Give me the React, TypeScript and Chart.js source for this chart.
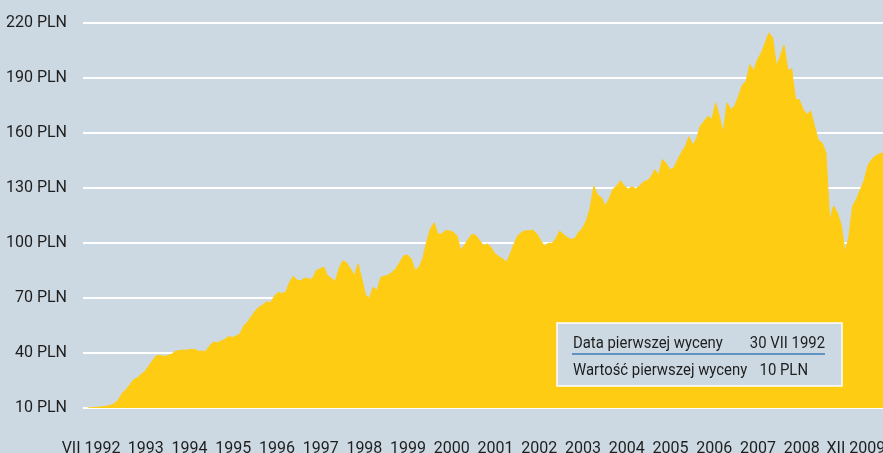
import React, { useEffect, useRef } from 'react';
import { Chart, registerables } from 'chart.js';

Chart.register(...registerables);

// Monthly fund unit value (PLN), end of month, VII 1992 .. XII 2009
const values: number[] = [
  // 1992 VII-XII
  10.1, 10.2, 10.4, 10.5, 10.7, 11,
  // 1993
  11.5, 12.5, 14.4, 18, 20, 22.5, 25.5, 26.4, 28.4, 30, 33, 36,
  // 1994
  38.5, 38.7, 38, 38.7, 39.3, 41, 41.3, 41.6, 41.5, 42, 42, 41,
  // 1995
  41, 41, 44, 46, 45.5, 46.5, 47.5, 49, 48.5, 49.3, 50.5, 55,
  // 1996
  57, 60, 63, 65, 66.3, 68, 67.4, 71, 73, 72.5, 73.2, 78.6,
  // 1997
  81.9, 79.5, 79.5, 80.8, 80.4, 80.4, 85, 85.9, 86.8, 82, 80.8, 79,
  // 1998
  86, 90.4, 89.1, 86, 82.2, 88.6, 80.4, 71.4, 70, 75.9, 74.1, 81.3,
  // 1999
  81.9, 82.6, 84, 86.2, 89.5, 93, 93.5, 91.3, 85, 86.7, 91.3, 100.4,
  // 2000
  107.6, 111, 104.9, 104.9, 106.7, 106.7, 105.8, 104, 96, 98.9, 102.2, 104.9,
  // 2001
  104, 101.3, 98.5, 99.5, 97.5, 94, 92.7, 91.3, 89.5, 94, 99.5, 104,
  // 2002
  105.8, 106.7, 106.7, 107, 105, 101.3, 98.4, 99.8, 99.8, 102.4, 106.5, 104.7,
  // 2003
  103, 102, 102.5, 106, 108, 112, 119, 131, 126, 124.7, 120.2, 124,
  // 2004
  129.3, 131.1, 134, 131.1, 129.3, 130.7, 129.6, 131, 133.3, 134, 136, 140,
  // 2005
  137, 145.6, 143.5, 140, 141, 145.3, 149.3, 152.5, 158, 153.3, 157, 164,
  // 2006
  166.4, 169.2, 167.4, 176.4, 169, 160, 176.4, 172.8, 174.6, 180, 186, 188.2,
  // 2007
  197.3, 194, 200, 203.7, 209, 214.6, 212, 196.4, 201.8, 208, 194, 195,
  // 2008
  178.2, 178.2, 172.8, 170.1, 171.9, 163.7, 156, 154.6, 149.2, 112, 120.2, 116.5,
  // 2009
  110, 95, 103, 120, 123.8, 129, 133.8, 142, 145.5, 147.4, 148.5, 149.2,
];

const xLabels: string[] = [
  'VII 1992', '1993', '1994', '1995', '1996', '1997', '1998', '1999', '2000',
  '2001', '2002', '2003', '2004', '2005', '2006', '2007', '2008', 'XII 2009',
];

const yTicks: number[] = [10, 40, 70, 100, 130, 160, 190, 220];

const infoLabels: string[] = ['Data pierwszej wyceny', 'Wartość pierwszej wyceny'];
const infoValues: string[] = ['30 VII 1992', '10 PLN'];

const BG = '#cdd9e2';
const YELLOW = '#ffcc14';
const TEXT = '#1e1e1e';
const FONT_FAMILY = "Roboto, 'Liberation Sans', sans-serif";
const FONT_SIZE = 16;

export default function App() {
  const ref = useRef<HTMLCanvasElement | null>(null);

  useEffect(() => {
    document.body.style.margin = '0';
    const canvas = ref.current;
    if (!canvas) return;

    const points = values.map((v, i) => ({ x: i, y: v }));
    const labelPos = xLabels.map((_, k) =>
      k === 0 ? -0.25 : k === xLabels.length - 1 ? 17.24 : k
    );

    const bgPlugin = {
      id: 'bg',
      beforeDraw(chart: any) {
        const { ctx, width, height } = chart;
        ctx.save();
        ctx.fillStyle = BG;
        ctx.fillRect(0, 0, width, height);
        ctx.restore();
      },
    };

    const infoPlugin = {
      id: 'info',
      afterDraw(chart: any) {
        const { ctx, chartArea } = chart;
        const left = chartArea.right - 326;
        const right = chartArea.right - 41;
        const top = chartArea.bottom - 85;
        const bottom = chartArea.bottom - 22;
        ctx.save();
        ctx.fillStyle = BG;
        ctx.fillRect(left, top, right - left, bottom - top);
        ctx.strokeStyle = '#ffffff';
        ctx.lineWidth = 1.5;
        ctx.strokeRect(left, top, right - left, bottom - top);

        ctx.strokeStyle = '#3b7bb6';
        ctx.lineWidth = 1.5;
        ctx.beginPath();
        ctx.moveTo(left + 15, top + 31);
        ctx.lineTo(right - 17, top + 31);
        ctx.stroke();

        const sx = 0.93;
        ctx.scale(sx, 1);
        ctx.font = `${FONT_SIZE}px ${FONT_FAMILY}`;
        ctx.fillStyle = TEXT;
        ctx.textBaseline = 'alphabetic';
        ctx.textAlign = 'left';
        ctx.fillText(infoLabels[0], (left + 16) / sx, top + 24.5);
        ctx.fillText(infoLabels[1], (left + 16) / sx, top + 51.5);
        ctx.textAlign = 'right';
        ctx.fillText(infoValues[0], (left + 268) / sx, top + 24.5);
        ctx.fillText(infoValues[1], (left + 251) / sx, top + 51.5);
        ctx.restore();
      },
    };

    const chart = new Chart(canvas, {
      type: 'line',
      data: {
        datasets: [
          {
            data: points,
            borderColor: YELLOW,
            borderWidth: 1,
            backgroundColor: YELLOW,
            fill: 'start',
            pointRadius: 0,
            tension: 0,
          },
        ],
      },
      options: {
        animation: false,
        responsive: true,
        maintainAspectRatio: false,
        layout: { padding: { top: 23, left: 0, right: 0, bottom: 0 } },
        plugins: {
          legend: { display: false },
          tooltip: { enabled: false },
        },
        scales: {
          x: {
            type: 'linear',
            display: false,
            min: -1.3,
            max: 209,
          },
          xl: {
            type: 'linear',
            position: 'bottom',
            min: -0.4345,
            max: 17.86,
            afterBuildTicks: (scale: any) => {
              scale.ticks = labelPos.map((v) => ({ value: v }));
            },
            afterFit: (scale: any) => {
              scale.height = 45;
              scale.paddingLeft = 0;
              scale.paddingRight = 0;
            },
            grid: { display: false, drawTicks: false },
            border: { display: false },
            ticks: {
              autoSkip: false,
              maxRotation: 0,
              minRotation: 0,
              padding: 31,
              color: TEXT,
              font: { family: FONT_FAMILY, size: FONT_SIZE },
              callback: (_v: any, idx: number) => xLabels[idx],
            },
          },
          y: {
            type: 'linear',
            min: 10,
            max: 220,
            z: 1,
            afterBuildTicks: (scale: any) => {
              scale.ticks = yTicks.map((v) => ({ value: v }));
            },
            afterFit: (scale: any) => {
              scale.width = 83;
              scale.paddingTop = 0;
              scale.paddingBottom = 0;
            },
            grid: { color: '#ffffff', lineWidth: 2, drawTicks: false },
            border: { display: false },
            ticks: {
              padding: 16,
              color: TEXT,
              font: { family: FONT_FAMILY, size: FONT_SIZE },
              callback: (v: any) => `${v} PLN`,
            },
          },
        },
      },
      plugins: [bgPlugin, infoPlugin],
    } as any);

    return () => chart.destroy();
  }, []);

  return (
    <div style={{ position: 'absolute', left: 0, top: 0, width: 883, height: 453 }}>
      <canvas ref={ref} width={883} height={453} />
    </div>
  );
}
